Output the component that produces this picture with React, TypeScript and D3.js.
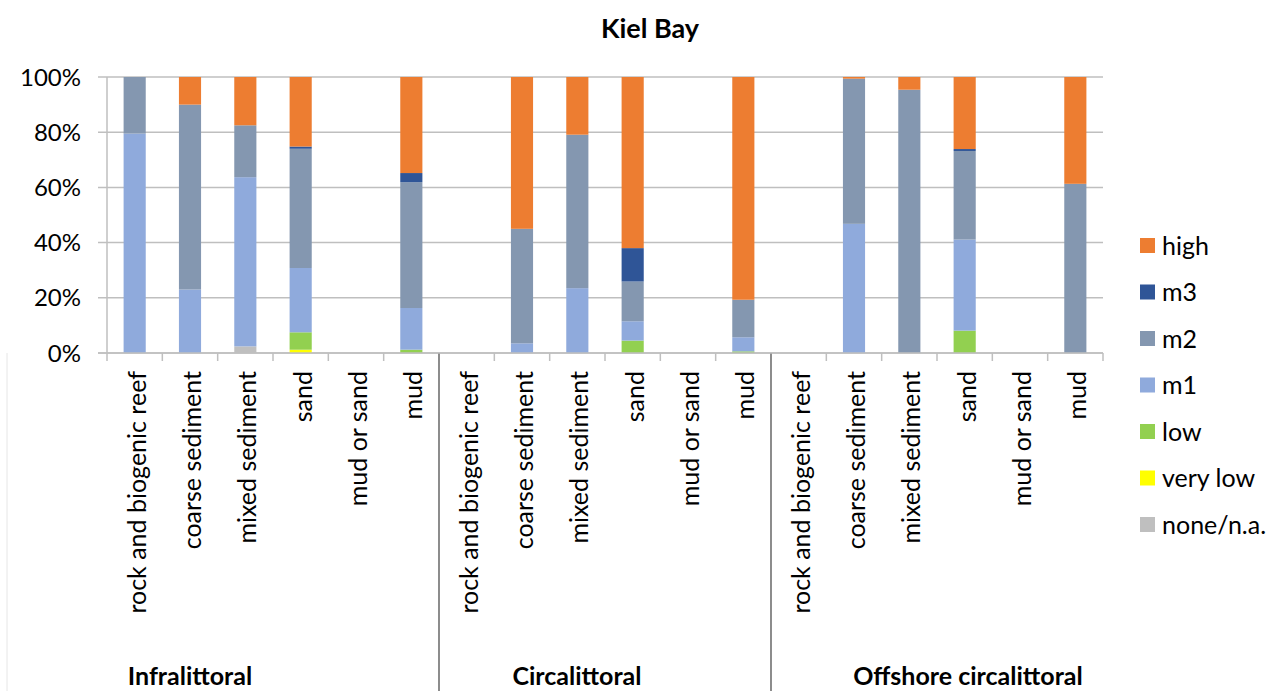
import * as React from "react";
import * as d3 from "d3";

// regions along the x axis, each with the same six habitats
const groups = ["Infralittoral", "Circalittoral", "Offshore circalittoral"];
const habitats = ["rock and biogenic reef", "coarse sediment", "mixed sediment", "sand", "mud or sand", "mud"];

// stacking order, bottom to top
const levels = ["none/n.a.", "very low", "low", "m1", "m2", "m3", "high"];
const levelColors = ["#BFBFBF", "#FFFF00", "#92D050", "#8FAADC", "#8497B0", "#2F5597", "#ED7D31"];

// share (%) per bar, 18 bars = 3 groups x 6 habitats
const noneValues = [0, 0, 2.4, 0, 0, 0, 0, 0, 0, 0, 0, 0, 0, 0, 0, 0, 0, 0];
const veryLowValues = [0, 0, 0, 1.2, 0, 0, 0, 0, 0, 0, 0, 0, 0, 0, 0, 0, 0, 0];
const lowValues = [0, 0, 0, 6.3, 0, 1.2, 0, 0, 0, 4.5, 0, 0.6, 0, 0, 0, 8.1, 0, 0];
const m1Values = [79.5, 23, 61.3, 23.3, 0, 15.1, 0, 3.5, 23.5, 7, 0, 5.1, 0, 46.8, 0, 33, 0, 0];
const m2Values = [20.5, 67, 18.8, 43.2, 0, 45.6, 0, 41.5, 55.6, 14.4, 0, 13.6, 0, 52.6, 95.4, 32.1, 0, 61.3];
const m3Values = [0, 0, 0, 0.8, 0, 3.3, 0, 0, 0, 12.1, 0, 0, 0, 0, 0, 0.7, 0, 0];
const highValues = [0, 10, 17.5, 25.2, 0, 34.8, 0, 55, 20.9, 62, 0, 80.7, 0, 0.6, 4.6, 26.1, 0, 38.7];

const yTicks = [0, 20, 40, 60, 80, 100];

const FONT = "Lato, 'Open Sans', sans-serif";

export default class App extends React.Component<{}, {}> {

    private svg: any;

    componentDidMount() {
        this.drawChart();
    }

    private drawChart() {
        const svg = d3.select(this.svg);
        svg.selectAll("*").remove();

        const left = 107, right = 1103, top = 77, bottom = 353;

        const series = [noneValues, veryLowValues, lowValues, m1Values, m2Values, m3Values, highValues];
        const rows: any[] = [];
        groups.forEach((g, gi) => {
            habitats.forEach((h, hi) => {
                const i = gi * habitats.length + hi;
                const row: any = { id: String(i), group: g, habitat: h };
                levels.forEach((l, li) => row[l] = series[li][i]);
                rows.push(row);
            });
        });

        const x = d3.scaleBand()
            .domain(rows.map(d => d.id))
            .range([left, right])
            .paddingInner(0.6)
            .paddingOuter(0.3);
        const step = x.step();
        const y = d3.scaleLinear().domain([0, 100]).range([bottom, top]);
        const z = d3.scaleOrdinal<string>().domain(levels).range(levelColors);

        // title
        svg.append("text")
            .attr("x", 650)
            .attr("y", 38)
            .attr("text-anchor", "middle")
            .attr("font-family", FONT)
            .attr("font-weight", "bold")
            .attr("font-size", 27)
            .attr("fill", "#000")
            .text("Kiel Bay");

        // gridlines + y labels
        const grid = svg.append("g");
        grid.selectAll("line")
            .data(yTicks)
            .enter().append("line")
            .attr("x1", left - 9)
            .attr("x2", right)
            .attr("y1", d => y(d))
            .attr("y2", d => y(d))
            .attr("stroke", "#BFBFBF")
            .attr("stroke-width", 1.5);
        grid.selectAll("text")
            .data(yTicks)
            .enter().append("text")
            .attr("x", 81)
            .attr("y", d => y(d))
            .attr("dy", "0.36em")
            .attr("text-anchor", "end")
            .attr("font-family", FONT)
            .attr("font-size", 24)
            .attr("fill", "#000")
            .text(d => d + "%");

        // y axis line
        svg.append("line")
            .attr("x1", left).attr("x2", left)
            .attr("y1", top).attr("y2", bottom)
            .attr("stroke", "#BFBFBF").attr("stroke-width", 1.5);

        // stacked bars
        const stacked = d3.stack().keys(levels)(rows);
        svg.append("g")
            .selectAll("g")
            .data(stacked)
            .enter().append("g")
            .attr("fill", (d: any) => z(d.key))
            .selectAll("rect")
            .data((d: any) => d)
            .enter().append("rect")
            .attr("x", (d: any) => x(d.data.id) as number)
            .attr("y", (d: any) => y(d[1]))
            .attr("height", (d: any) => y(d[0]) - y(d[1]))
            .attr("width", x.bandwidth());

        // x ticks at category boundaries; longer dark lines between groups
        const boundaries = d3.range(rows.length + 1);
        const isSep = (d: number) => d % habitats.length === 0 && d > 0 && d < rows.length;
        svg.append("g")
            .selectAll("line")
            .data(boundaries)
            .enter().append("line")
            .attr("x1", d => left + d * step)
            .attr("x2", d => left + d * step)
            .attr("y1", bottom)
            .attr("y2", d => isSep(d) ? 691 : bottom + 8)
            .attr("stroke", d => isSep(d) ? "#404040" : "#BFBFBF")
            .attr("stroke-width", d => isSep(d) ? 1.2 : 1.5);

        svg.append("line")
            .attr("x1", 7).attr("x2", 7)
            .attr("y1", bottom).attr("y2", 691)
            .attr("stroke", "#E6E6E6");

        // x axis line
        svg.append("line")
            .attr("x1", left - 9).attr("x2", right)
            .attr("y1", bottom).attr("y2", bottom)
            .attr("stroke", "#BFBFBF").attr("stroke-width", 1.5);

        // rotated habitat labels
        svg.append("g")
            .selectAll("text")
            .data(rows)
            .enter().append("text")
            .attr("transform", (d: any) => "translate(" + ((x(d.id) as number) + x.bandwidth() / 2 + 11) + ",371) rotate(-90)")
            .attr("text-anchor", "end")
            .attr("font-family", FONT)
            .attr("font-size", 25)
            .attr("fill", "#000")
            .text((d: any) => d.habitat);

        // group labels
        const groupX = [190, 577, 968];
        svg.append("g")
            .selectAll("text")
            .data(groups)
            .enter().append("text")
            .attr("x", (d, i) => groupX[i])
            .attr("y", 685)
            .attr("text-anchor", "middle")
            .attr("font-family", FONT)
            .attr("font-weight", "bold")
            .attr("font-size", 25)
            .attr("fill", "#000")
            .text(d => d);

        // legend, top entry = last stacked level
        const legend = svg.append("g")
            .selectAll("g")
            .data(levels.slice().reverse())
            .enter().append("g")
            .attr("transform", (d, i) => "translate(1140," + (245.5 + i * 46.5) + ")");

        legend.append("rect")
            .attr("x", 0)
            .attr("y", -7.5)
            .attr("width", 15)
            .attr("height", 15)
            .attr("fill", (d: any) => z(d));

        legend.append("text")
            .attr("x", 22)
            .attr("y", 0)
            .attr("dy", "0.36em")
            .attr("font-family", FONT)
            .attr("font-size", 25)
            .attr("fill", "#000")
            .text(d => d);
    }

    render() {
        return <svg ref={(ref: SVGSVGElement) => { this.svg = ref; }}
            width="1271" height="691"
            style={{ position: "absolute", left: 0, top: 0, background: "#fff" }}></svg>
    }
}
